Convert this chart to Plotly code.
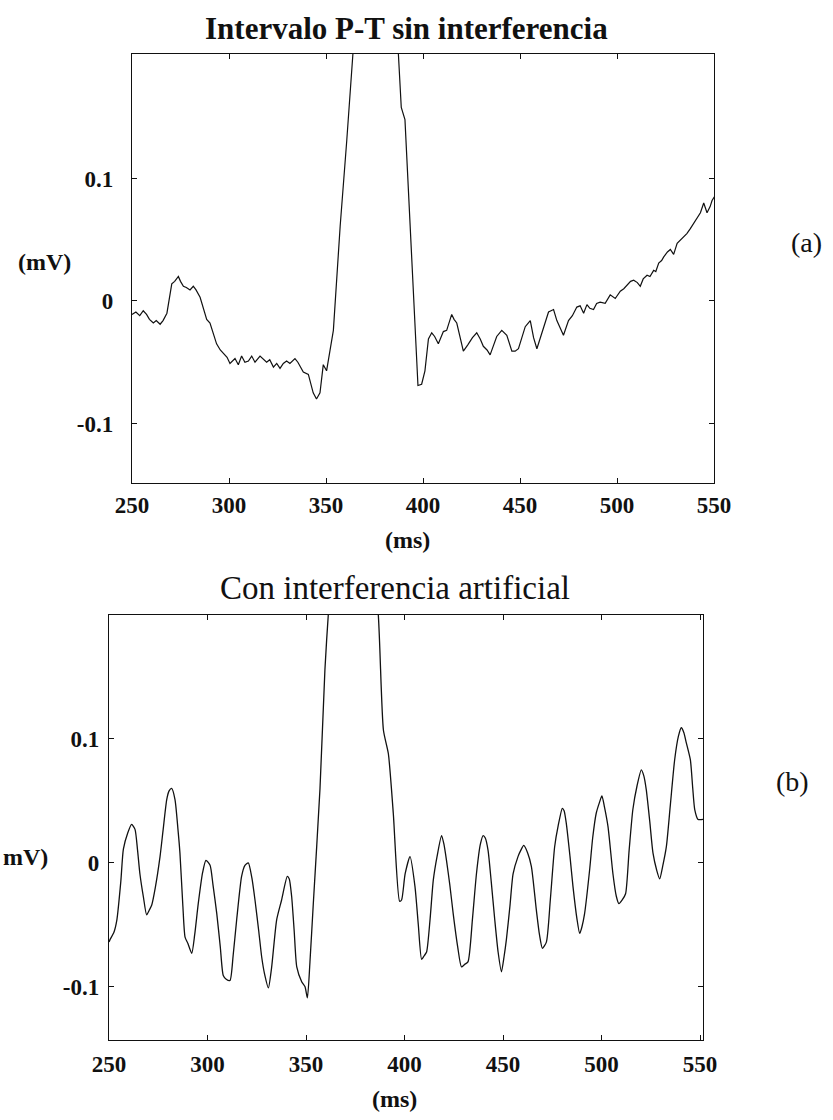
import plotly.graph_objects as go

# ---- Trace (a): P-T interval without interference ----
time_a = [
    250.0, 252.0, 254.0, 255.8, 257.5, 259.0, 261.0, 262.5, 264.5, 266.0,
    268.0, 270.5, 272.0, 273.9, 275.0, 276.5, 278.0, 279.9, 281.6, 283.0,
    285.1, 287.0, 288.5, 290.2, 292.0, 293.6, 295.5, 297.1, 299.0, 300.5,
    303.1, 304.8, 306.5, 308.2, 310.0, 311.7, 313.4, 316.0, 319.4, 321.0,
    322.9, 324.6, 326.3, 328.0, 329.7, 331.4, 334.0, 335.5, 338.3, 340.9,
    343.4, 345.1, 346.9, 348.6, 350.3, 353.8, 357.3, 360.7, 363.3, 375.0,
    387.3, 388.8, 390.7, 397.4, 399.3, 401.0, 402.8, 404.5, 406.0, 407.9,
    410.5, 412.2, 414.8, 416.0, 417.4, 420.8, 423.0, 425.5, 427.7, 429.5,
    431.1, 433.0, 434.6, 436.5, 438.0, 440.6, 443.2, 445.8, 447.5, 449.2,
    451.0, 452.7, 455.3, 457.0, 458.7, 461.0, 463.0, 464.7, 466.0, 467.3,
    469.0, 472.4, 475.0, 477.0, 479.3, 481.0, 482.8, 484.5, 486.0, 487.9,
    489.5, 491.3, 493.9, 496.5, 499.1, 501.7, 503.5, 505.2, 507.0, 508.6,
    510.5, 512.0, 513.5, 515.5, 517.0, 518.9, 520.0, 521.5, 523.0, 524.1,
    526.0, 527.5, 529.2, 531.0, 532.8, 534.4, 536.0, 537.8, 539.5, 541.3,
    543.0, 544.7, 546.4, 548.0, 549.0, 550.2,
]
mv_a = [
    -0.011, -0.009, -0.012, -0.008, -0.011, -0.015, -0.018, -0.016, -0.019, -0.016,
    -0.010, 0.014, 0.016, 0.020, 0.016, 0.012, 0.011, 0.009, 0.012, 0.009,
    0.003, -0.008, -0.015, -0.018, -0.027, -0.035, -0.040, -0.043, -0.046, -0.051,
    -0.047, -0.052, -0.045, -0.050, -0.049, -0.045, -0.050, -0.045, -0.050, -0.048,
    -0.054, -0.051, -0.055, -0.051, -0.049, -0.051, -0.047, -0.050, -0.058, -0.060,
    -0.075, -0.080, -0.075, -0.052, -0.057, -0.024, 0.061, 0.131, 0.202, 0.450,
    0.202, 0.158, 0.148, -0.069, -0.068, -0.057, -0.031, -0.026, -0.029, -0.035,
    -0.025, -0.024, -0.011, -0.015, -0.018, -0.041, -0.036, -0.030, -0.026, -0.031,
    -0.037, -0.040, -0.044, -0.036, -0.029, -0.024, -0.028, -0.041, -0.041, -0.039,
    -0.030, -0.021, -0.016, -0.030, -0.039, -0.028, -0.018, -0.009, -0.008, -0.007,
    -0.016, -0.028, -0.016, -0.012, -0.005, -0.004, -0.010, -0.003, -0.006, -0.007,
    -0.002, -0.001, -0.002, 0.005, 0.002, 0.008, 0.010, 0.013, 0.016, 0.017,
    0.015, 0.012, 0.018, 0.021, 0.020, 0.025, 0.024, 0.031, 0.033, 0.036,
    0.040, 0.042, 0.038, 0.047, 0.050, 0.053, 0.055, 0.059, 0.063, 0.068,
    0.072, 0.080, 0.072, 0.077, 0.082, 0.085,
]

# ---- Trace (b): same interval with artificial interference ----
time_b = [
    250.0, 250.5, 252.5, 254.0, 256.0, 257.3, 259.5, 261.5, 263.2, 264.5,
    265.7, 267.5, 269.1, 270.5, 271.7, 273.5, 275.9, 277.5, 279.3, 280.5,
    281.8, 283.5, 285.0, 286.0, 287.5, 288.6, 290.0, 292.0, 293.5, 295.3,
    297.5, 299.2, 301.3, 302.8, 304.7, 306.5, 308.0, 309.5, 311.4, 313.0,
    314.8, 317.3, 319.0, 320.7, 322.5, 324.1, 326.0, 327.5, 329.0, 330.9,
    332.5, 335.1, 337.6, 340.5, 341.5, 342.7, 344.0, 345.3, 347.8, 349.5,
    350.7, 352.0, 353.7, 357.1, 359.6, 361.3, 374.0, 386.7, 389.3, 391.8,
    394.3, 397.5, 398.5, 400.3, 402.8, 405.3, 407.0, 408.7, 410.0, 411.2,
    413.0, 414.6, 416.5, 418.8, 420.0, 421.3, 423.0, 424.7, 427.0, 428.9,
    430.5, 432.2, 434.5, 436.5, 438.5, 439.9, 441.0, 442.4, 444.0, 445.8,
    447.5, 449.2, 450.5, 451.7, 453.5, 455.1, 457.6, 459.0, 460.5, 462.5,
    464.4, 466.9, 468.5, 470.0, 472.0, 474.0, 476.2, 478.0, 480.1, 481.0,
    482.1, 484.0, 485.5, 487.5, 488.9, 490.0, 491.4, 494.0, 495.5, 497.3,
    499.0, 500.2, 501.5, 503.3, 505.8, 507.5, 508.8, 510.5, 512.2, 514.0,
    515.9, 518.0, 520.2, 521.5, 522.7, 524.5, 526.1, 528.0, 529.5, 531.0,
    532.9, 535.0, 537.1, 539.0, 540.5, 541.8, 543.0, 545.1, 546.3, 547.3,
    549.0, 551.5,
]
mv_b = [
    -0.064, -0.062, -0.056, -0.046, -0.015, 0.011, 0.024, 0.031, 0.027, 0.010,
    -0.009, -0.028, -0.042, -0.038, -0.034, -0.020, 0.005, 0.027, 0.051, 0.058,
    0.060, 0.051, 0.027, 0.008, -0.035, -0.060, -0.065, -0.073, -0.058, -0.033,
    -0.008, 0.002, -0.002, -0.018, -0.041, -0.068, -0.091, -0.094, -0.095, -0.075,
    -0.046, -0.011, -0.002, 0.000, -0.012, -0.030, -0.055, -0.076, -0.090, -0.101,
    -0.085, -0.046, -0.030, -0.011, -0.013, -0.027, -0.055, -0.084, -0.096, -0.100,
    -0.109, -0.080, -0.033, 0.060, 0.156, 0.200, 0.450, 0.200, 0.107, 0.088,
    0.040, -0.031, -0.030, -0.009, 0.005, -0.019, -0.050, -0.078, -0.075, -0.072,
    -0.045, -0.014, 0.005, 0.022, 0.015, 0.002, -0.018, -0.041, -0.068, -0.084,
    -0.082, -0.080, -0.045, -0.009, 0.015, 0.022, 0.020, 0.010, -0.015, -0.046,
    -0.072, -0.088, -0.076, -0.062, -0.035, -0.009, 0.005, 0.010, 0.014, 0.008,
    -0.003, -0.038, -0.058, -0.069, -0.064, -0.030, 0.013, 0.030, 0.044, 0.042,
    0.032, 0.005, -0.019, -0.045, -0.057, -0.052, -0.041, -0.005, 0.020, 0.040,
    0.049, 0.054, 0.045, 0.029, -0.009, -0.027, -0.033, -0.030, -0.025, 0.010,
    0.043, 0.062, 0.075, 0.070, 0.059, 0.033, 0.008, -0.006, -0.013, -0.003,
    0.013, 0.048, 0.083, 0.102, 0.109, 0.105, 0.097, 0.083, 0.060, 0.043,
    0.035, 0.035,
]

x_ticks = [250, 300, 350, 400, 450, 500, 550]
y_ticks = [-0.1, 0.0, 0.1]
y_tick_text = ["-0.1", "0", "0.1"]

W, H = 833, 1120
SERIF = "Liberation Serif, Times New Roman, serif"
INK = "#111111"


def px_x(p):
    return p / W


def px_y(p):
    return 1 - p / H


fig = go.Figure()
fig.add_trace(go.Scatter(x=time_a, y=mv_a, mode="lines", xaxis="x", yaxis="y",
                         line=dict(color=INK, width=1.2), showlegend=False))
fig.add_trace(go.Scatter(x=time_b, y=mv_b, mode="lines", xaxis="x2", yaxis="y2",
                         line=dict(color=INK, width=1.3, shape="spline", smoothing=0.6),
                         showlegend=False))

axis_common = dict(
    showgrid=False, zeroline=False, showline=True, linecolor=INK, linewidth=1.4,
    mirror="ticks", ticks="inside", ticklen=5, tickcolor=INK, tickwidth=1,
    tickfont=dict(family=SERIF, size=23, color=INK, weight="bold"),
)

fig.update_layout(
    width=W, height=H,
    margin=dict(l=0, r=0, t=0, b=0, autoexpand=False),
    paper_bgcolor="white", plot_bgcolor="white",
    xaxis=dict(domain=[px_x(132), px_x(714)], range=[250, 550], anchor="y",
               tickvals=x_ticks, ticklabelstandoff=1, **axis_common),
    yaxis=dict(domain=[px_y(483), px_y(54)], range=[-0.1486, 0.2016], anchor="x",
               tickvals=y_ticks, ticktext=y_tick_text, ticklabelstandoff=13,
               **axis_common),
    xaxis2=dict(domain=[px_x(109), px_x(703)], range=[250, 551.5], anchor="y2",
                tickvals=x_ticks, ticklabelstandoff=3, **axis_common),
    yaxis2=dict(domain=[px_y(1040), px_y(615)], range=[-0.143, 0.2], anchor="x2",
                tickvals=y_ticks, ticktext=y_tick_text, ticklabelstandoff=4,
                **axis_common),
)


def label(text, x, y, size, bold=True, xanchor="center"):
    fig.add_annotation(
        text=text, x=px_x(x), y=px_y(y), xref="paper", yref="paper",
        xanchor=xanchor, yanchor="middle", showarrow=False,
        font=dict(family=SERIF, size=size, color=INK,
                  weight="bold" if bold else "normal"),
    )


label("Intervalo P-T sin interferencia", 406, 28, 31, bold=True)
label("Con interferencia artificial", 395, 588, 33, bold=False)
label("(ms)", 407, 540, 24, bold=True)
label("(ms)", 394, 1099, 24, bold=True)
label("(mV)", 44, 262, 24, bold=True)
label("mV)", 1, 857, 24, bold=True, xanchor="left")
label("(a)", 806, 242, 28, bold=False)
label("(b)", 792, 781, 28, bold=False)

fig.write_html("out.html")
